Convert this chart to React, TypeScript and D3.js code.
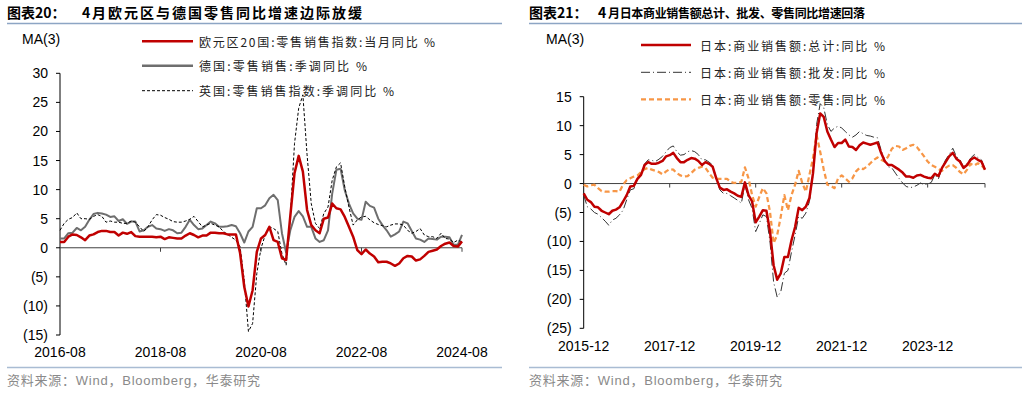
import React, { useEffect, useRef } from 'react'
import * as d3 from 'd3'

// 图表20: monthly, 2016-08 .. 2024-08
const euLabels = ['2016-08', '2018-08', '2020-08', '2022-08', '2024-08']
const euTicks = [30, 25, 20, 15, 10, 5, 0, -5, -10, -15]
const euroArea20 = [
  1.0, 1.0, 1.9, 2.3, 2.2, 1.8, 1.3, 2.1, 2.3, 2.7,
  2.9, 2.9, 2.7, 2.7, 2.1, 2.6, 2.4, 2.7, 2.0, 1.9,
  1.9, 1.9, 1.9, 1.8, 1.9, 1.5, 1.8, 1.7, 1.6, 1.6,
  2.1, 2.5, 2.2, 1.8, 2.1, 2.1, 2.6, 2.6, 2.5, 2.5,
  2.3, 2.3, 2.3, -0.9, -6.7, -10.1, -7.3, -0.7, 1.6, 2.2,
  3.6, 1.3, 1.0, -1.8, -2.1, 5.5, 12.8, 15.8, 13.1, 6.5,
  3.9, 3.0, 2.5, 5.0, 5.2, 7.6, 6.8, 6.6, 5.3, 3.6,
  1.9, -0.4, -1.1, -0.3, -1.0, -1.5, -2.5, -2.4, -2.4, -2.7,
  -3.1, -2.7, -1.8, -1.4, -1.5, -2.2, -2.0, -1.4, -0.7, -0.5,
  -0.3, 0.3, 0.7, 0.9, 0.3, 0.2, 1.1,
]
const germany = [
  1.6, 1.6, 2.5, 2.6, 3.4, 3.0, 3.6, 4.8, 5.8, 6.0,
  5.9, 5.7, 5.3, 5.4, 4.6, 4.9, 4.1, 4.5, 4.5, 2.8,
  3.0, 3.6, 3.9, 3.3, 3.2, 2.9, 3.2, 3.0, 2.5, 2.6,
  3.6, 4.8, 3.9, 3.2, 3.3, 3.9, 4.5, 4.2, 3.6, 3.6,
  3.7, 3.9, 3.7, 2.5, 0.9, 2.8, 3.6, 6.8, 6.8, 7.3,
  8.5, 9.1, 8.2, 2.5, -0.8, 3.0, 5.3, 6.3, 5.4, 3.6,
  3.6, 1.6, 1.0, 1.3, 3.0, 9.3, 13.4, 13.6, 9.9, 7.6,
  5.9, 5.0, 4.8, 7.9, 7.2, 6.9, 5.0, 3.9, 3.0, 1.9,
  2.3, 2.8, 4.5, 4.2, 2.9, 1.6, 1.4, 1.0, 1.6, 1.5,
  1.4, 1.9, 1.9, 1.8, 0.5, 0.5, 2.2,
]
const uk = [
  3.0, 4.2, 4.9, 5.2, 6.0, 5.0, 5.0, 4.9, 5.4, 5.7,
  5.4, 4.4, 4.6, 4.4, 4.4, 4.2, 4.2, 4.6, 4.4, 3.6,
  2.8, 3.6, 4.8, 5.7, 5.6, 5.2, 4.9, 4.5, 4.4, 4.4,
  4.6, 4.9, 5.4, 4.5, 3.6, 3.9, 4.2, 3.9, 3.6, 2.8,
  2.3, 1.8, 1.3, 0.2, -5.6, -14.4, -13.0, -4.4, -0.1, 2.2,
  3.6, 3.3, 2.8, -1.0, -3.0, 5.3, 17.9, 24.0, 26.3, 16.0,
  7.6, 4.2, 3.3, 5.9, 7.0, 11.6, 13.9, 14.6, 10.5, 7.0,
  3.9, 4.8, 5.3, 5.4, 4.8, 4.3, 4.0, 3.8, 3.6, 3.9,
  4.1, 4.1, 3.9, 3.0, 2.5, 2.8, 3.3, 2.2, 1.9, 1.9,
  1.6, 2.5, 1.6, 1.5, 0.9, 1.3, 1.0,
]

// 图表21: monthly, 2015-12 .. 2025-04
const jpLabels = ['2015-12', '2017-12', '2019-12', '2021-12', '2023-12']
const jpTicks = [15, 10, 5, 0, -5, -10, -15, -20, -25]
const jpTotal = [
  -1.7, -2.8, -3.2, -4.0, -4.1, -4.7, -5.0, -5.3, -4.7, -4.5,
  -4.1, -3.1, -2.0, -0.5, -0.4, 0.8, 1.5, 3.2, 3.7, 3.4,
  3.4, 3.6, 3.9, 4.7, 4.9, 5.3, 4.4, 3.7, 3.7, 4.1,
  4.4, 4.3, 3.9, 3.2, 3.7, 3.4, 2.9, 0.9, -0.7, -1.1,
  -1.0, -1.4, -1.7, -2.1, -2.3, 0.2, -2.0, -3.1, -6.7, -5.7,
  -4.6, -4.7, -8.3, -14.1, -16.6, -15.5, -12.7, -12.7, -9.8, -7.5,
  -4.2, -4.6, -4.0, -2.5, 1.8, 8.7, 12.1, 11.5, 9.0, 7.6,
  6.3, 7.0, 7.0, 7.6, 6.4, 6.3, 5.8, 6.6, 7.1, 6.9,
  6.7, 6.9, 7.1, 5.3, 3.9, 3.2, 3.2, 2.8, 2.4, 1.9,
  1.2, 1.2, 1.0, 1.4, 1.5, 1.2, 1.0, 0.9, 1.7, 1.3,
  2.7, 3.7, 4.7, 5.3, 4.3, 3.8, 2.7, 3.2, 4.1, 4.5,
  4.1, 3.8, 2.4,
]
const jpWholesale = [
  -2.0, -4.0, -4.4, -5.0, -5.3, -5.9, -6.5, -7.2, -6.3, -6.0,
  -5.4, -4.6, -2.8, -1.1, -0.9, 0.8, 1.8, 3.4, 4.1, 4.0,
  3.8, 4.2, 4.7, 5.5, 6.2, 6.5, 5.5, 4.9, 5.0, 5.5,
  5.7, 5.5, 5.0, 4.1, 4.1, 3.7, 3.2, 0.8, -1.1, -1.7,
  -1.7, -2.1, -2.5, -2.9, -3.4, -0.2, -2.8, -4.3, -8.3, -6.9,
  -5.4, -5.7, -10.1, -17.0, -19.6, -18.7, -15.5, -15.0, -11.8, -8.9,
  -5.7, -6.0, -5.1, -3.1, 1.5, 10.2, 13.8, 13.1, 10.2, 9.0,
  9.6, 9.9, 9.6, 9.0, 8.4, 8.0, 8.4, 9.0, 8.6, 8.3,
  8.2, 8.0, 7.9, 5.8, 4.1, 2.9, 2.7, 1.8, 0.9, 0.1,
  -0.5, -0.7, -0.6, -0.3, 0.1, -0.2, -0.1, 0.2, 1.5, 0.8,
  2.7, 4.1, 5.0, 6.1, 4.7, 4.1, 2.9, 3.5, 4.4, 5.0,
  4.5, 4.1, 2.5,
]
const jpRetail = [
  -0.2, -0.5, -0.3, -0.2, -0.8, -1.3, -1.4, -1.4, -1.3, -1.3,
  -1.4, -0.2, 0.6, 0.9, 1.2, 1.4, 2.0, 2.5, 2.7, 2.4,
  2.2, 2.0, 1.6, 2.1, 2.5, 2.4, 1.8, 1.4, 1.2, 1.3,
  1.8, 2.4, 2.7, 2.9, 2.7, 1.8, 1.0, 0.8, 0.8, 0.8,
  0.8, 0.3, 0.1, 0.1, 0.3, 2.8, 0.9, -2.0, -4.0, -2.3,
  -0.8, -1.7, -4.9, -10.3, -8.9, -5.7, -2.0, -4.6, -2.0, -0.2,
  2.2, 0.1, -1.4, 1.5, 4.4, 8.4, 5.5, 2.4, -0.2, -0.4,
  -0.8, 0.9, 1.4, 0.9, 0.3, 0.9, 2.1, 2.7, 2.5, 2.9,
  3.5, 4.1, 4.5, 4.1, 3.8, 4.7, 6.0, 6.5, 6.4, 5.8,
  6.1, 6.5, 6.7, 6.3, 5.5, 4.7, 3.8, 3.2, 2.9, 2.5,
  2.2, 2.7, 3.1, 3.2, 2.7, 2.0, 1.6, 2.4, 3.4, 3.1,
  3.5, 3.2, 2.4,
]

const CJK = '"Noto Sans CJK SC", sans-serif'
const NUM = '"Liberation Sans", Arial, "Noto Sans CJK SC", sans-serif'

const fmt = (v: number) => (v < 0 ? `(${-v})` : `${v}`)

function drawPanel(svg: any, p: any) {
  const g = svg.append('g')
  const x = d3.scaleLinear().domain([0, p.span]).range([p.left, p.right])
  const y = d3.scaleLinear().domain(p.yDomain).range([p.bottom, p.top])

  // title
  const t = g.append('text').attr('y', 12).attr('dominant-baseline', 'central')
    .style('font-family', CJK).style('font-weight', 700).style('font-size', '14px')
  t.append('tspan').attr('x', p.tx).text(p.titleHead)
  t.append('tspan').attr('x', p.tx4).text('4')
  t.append('tspan').attr('x', p.tx4 + 10).attr('textLength', p.titleLen)
    .attr('lengthAdjust', 'spacing').style('font-size', p.titleSize + 'px').text(p.titleBody)
  g.append('line').attr('x1', p.tx).attr('x2', p.lineEnd).attr('y1', 23.5).attr('y2', 23.5)
    .attr('stroke', '#8DA5C4').attr('stroke-width', 1.5)

  g.append('text').attr('x', p.maX).attr('y', p.maY).attr('dominant-baseline', 'central')
    .style('font-family', NUM).style('font-size', '14px').text('MA(3)')

  // y axis
  g.append('line').attr('x1', p.left).attr('x2', p.left)
    .attr('y1', y(p.yDomain[1])).attr('y2', y(p.yDomain[0])).attr('stroke', '#000')
  p.ticks.forEach((v: number) => {
    g.append('line').attr('x1', p.left - 4).attr('x2', p.left).attr('y1', y(v)).attr('y2', y(v))
      .attr('stroke', '#000')
    g.append('text').attr('x', p.left - 12).attr('y', y(v)).attr('text-anchor', 'end')
      .attr('dominant-baseline', 'central').style('font-family', NUM).style('font-size', '14px')
      .text(fmt(v))
  })

  // zero line + x labels
  g.append('line').attr('x1', p.left).attr('x2', p.right).attr('y1', y(0)).attr('y2', y(0))
    .attr('stroke', '#404040')
  p.labels.forEach((s: string, i: number) => {
    const xx = x(i * 24)
    if (i > 0) {
      g.append('line').attr('x1', xx).attr('x2', xx).attr('y1', y(0)).attr('y2', y(0) + 4)
        .attr('stroke', '#404040')
    }
    g.append('text').attr('x', xx).attr('y', p.labelY).attr('text-anchor', 'middle')
      .attr('dominant-baseline', 'central').style('font-family', NUM).style('font-size', '14px')
      .text(s)
  })
  if (p.span % 24 !== 0) {
    g.append('line').attr('x1', p.right).attr('x2', p.right).attr('y1', y(0)).attr('y2', y(0) + 4)
      .attr('stroke', '#404040')
  }

  // series
  const line = d3.line<number>().x((_, i) => x(i)).y(d => y(d))
  p.series.forEach((s: any) => {
    g.append('path').attr('d', line(s.data)).attr('fill', 'none').attr('stroke', s.color)
      .attr('stroke-width', s.width).attr('stroke-dasharray', s.dash || null)
      .attr('stroke-linejoin', 'round')
  })

  // legend
  p.legend.forEach((s: any, i: number) => {
    const ly = p.legY[i]
    g.append('line').attr('x1', p.legX[0]).attr('x2', p.legX[1]).attr('y1', ly).attr('y2', ly)
      .attr('stroke', s.color).attr('stroke-width', s.width).attr('stroke-dasharray', s.dash || null)
    g.append('text').attr('x', p.legX[2]).attr('y', ly).attr('dominant-baseline', 'central')
      .attr('textLength', s.len).attr('lengthAdjust', 'spacing')
      .style('font-family', CJK).style('font-size', '12px').style('fill', '#222').text(s.name)
  })

  // footer
  g.append('line').attr('x1', p.tx).attr('x2', p.lineEnd).attr('y1', 367.5).attr('y2', 367.5)
    .attr('stroke', '#A9BCD3').attr('stroke-width', 1.5)
  g.append('text').attr('x', p.tx).attr('y', 380).attr('dominant-baseline', 'central')
    .attr('textLength', 253).attr('lengthAdjust', 'spacing')
    .style('font-family', NUM).style('font-size', '13px').style('fill', '#8a8a8a')
    .text('资料来源：Wind，Bloomberg，华泰研究')
}

export default function App() {
  const ref = useRef<SVGSVGElement>(null)

  useEffect(() => {
    document.body.style.margin = '0'
    const svg = d3.select(ref.current)
    svg.selectAll('*').remove()

    const red = { color: '#C00000', width: 2.5 }
    const gray = { color: '#6E6E6E', width: 2 }
    const ukStyle = { color: '#000', width: 1, dash: '3,2' }
    drawPanel(svg, {
      left: 60, right: 462, top: 73.3, bottom: 335, span: 96, yDomain: [-15, 30],
      ticks: euTicks, labels: euLabels, labelY: 352,
      tx: 7, tx4: 82, lineEnd: 502, titleSize: 14, titleLen: 270,
      titleHead: '图表20：', titleBody: '月欧元区与德国零售同比增速边际放缓',
      maX: 22, maY: 38.5,
      series: [
        { data: germany, ...gray },
        { data: uk, ...ukStyle },
        { data: euroArea20, ...red },
      ],
      legX: [142, 193, 199], legY: [41.3, 65.7, 90.7],
      legend: [
        { name: '欧元区20国:零售销售指数:当月同比 %', len: 236, ...red },
        { name: '德国:零售销售:季调同比 %', len: 168, ...gray, width: 2.5 },
        { name: '英国:零售销售指数:季调同比 %', len: 195, ...ukStyle },
      ],
    })

    const wsStyle = { color: '#333', width: 1, dash: '9,3,1,3' }
    const rtStyle = { color: '#F79646', width: 2.25, dash: '5,3' }
    drawPanel(svg, {
      left: 583.7, right: 985, top: 96.7, bottom: 328.3, span: 112, yDomain: [-25, 15],
      ticks: jpTicks, labels: jpLabels, labelY: 346,
      tx: 529, tx4: 598, lineEnd: 1022, titleSize: 12, titleLen: 257,
      titleHead: '图表21：', titleBody: '月日本商业销售额总计、批发、零售同比增速回落',
      maX: 546, maY: 39,
      series: [
        { data: jpWholesale, ...wsStyle },
        { data: jpRetail, ...rtStyle },
        { data: jpTotal, ...red },
      ],
      legX: [641, 691, 700], legY: [45, 72.3, 99.3],
      legend: [
        { name: '日本:商业销售额:总计:同比 %', len: 185, ...red },
        { name: '日本:商业销售额:批发:同比 %', len: 185, ...wsStyle },
        { name: '日本:商业销售额:零售:同比 %', len: 185, ...rtStyle },
      ],
    })
  }, [])

  return <svg ref={ref} width={1029} height={393} style={{ display: 'block', background: '#fff' }} />
}
